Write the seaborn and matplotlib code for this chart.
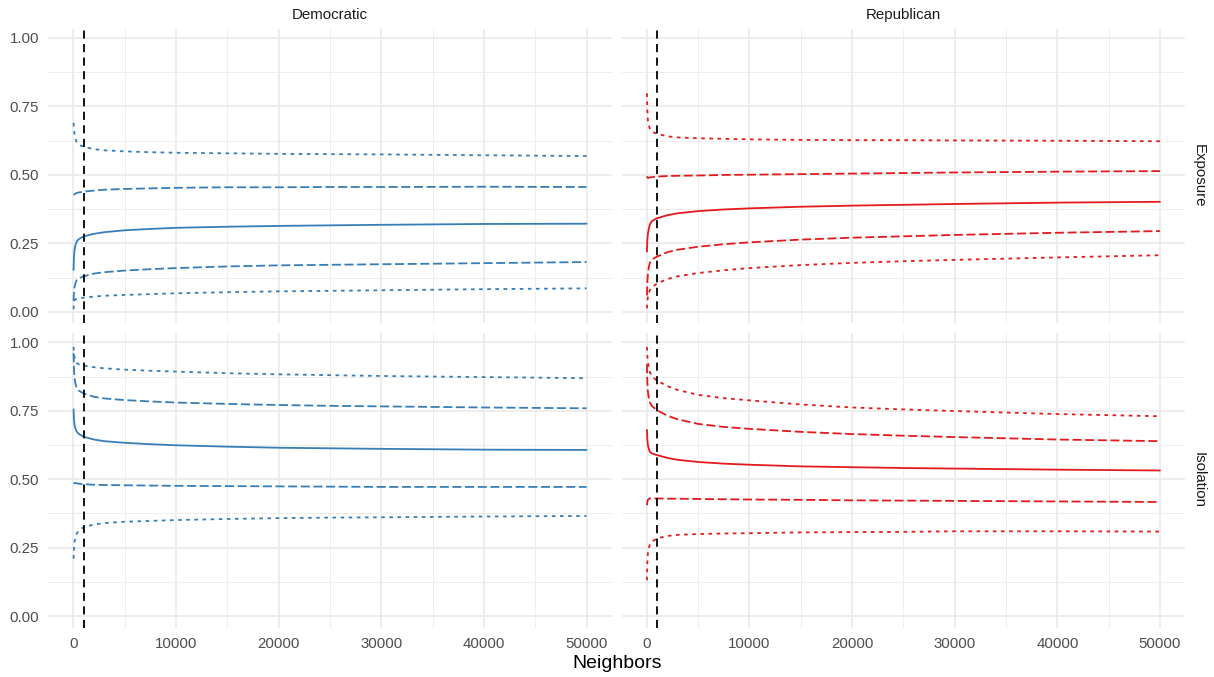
import numpy as np
import pandas as pd
import matplotlib
matplotlib.use("Agg")
import matplotlib.pyplot as plt
import seaborn as sns
from matplotlib.ticker import MultipleLocator, FixedLocator, FuncFormatter

sns.set_theme(style="white")
plt.rcParams["font.family"] = ["Liberation Sans", "DejaVu Sans"]

# Number of nearest neighbors used to compute each measure
neighbors = [10, 50, 100, 200, 300, 500, 1000, 2000, 3000, 5000, 7500,
             10000, 15000, 20000, 25000, 30000, 40000, 50000]

parties = ["Democratic", "Republican"]
measures = ["Exposure", "Isolation"]
bands = ["p05", "p25", "p50", "p75", "p95"]

# Democratic exposure
dem_exp_p95 = [0.690, 0.668, 0.650, 0.632, 0.620, 0.610, 0.603, 0.594, 0.590, 0.586, 0.583, 0.581, 0.579, 0.577, 0.576, 0.575, 0.572, 0.569]
dem_exp_p75 = [0.427, 0.428, 0.430, 0.432, 0.434, 0.436, 0.439, 0.443, 0.446, 0.449, 0.451, 0.453, 0.455, 0.455, 0.456, 0.456, 0.457, 0.456]
dem_exp_p50 = [0.153, 0.200, 0.225, 0.245, 0.255, 0.265, 0.276, 0.285, 0.291, 0.298, 0.303, 0.307, 0.311, 0.314, 0.316, 0.318, 0.321, 0.322]
dem_exp_p25 = [0.040, 0.070, 0.090, 0.105, 0.115, 0.122, 0.130, 0.140, 0.145, 0.151, 0.156, 0.160, 0.166, 0.170, 0.172, 0.174, 0.178, 0.182]
dem_exp_p05 = [0.010, 0.032, 0.042, 0.046, 0.048, 0.050, 0.052, 0.056, 0.059, 0.062, 0.065, 0.068, 0.072, 0.075, 0.077, 0.079, 0.083, 0.086]

# Republican exposure
rep_exp_p95 = [0.798, 0.735, 0.700, 0.680, 0.668, 0.658, 0.650, 0.641, 0.637, 0.634, 0.632, 0.630, 0.628, 0.627, 0.627, 0.626, 0.625, 0.623]
rep_exp_p75 = [0.495, 0.491, 0.489, 0.490, 0.491, 0.492, 0.494, 0.496, 0.497, 0.498, 0.500, 0.501, 0.503, 0.505, 0.507, 0.509, 0.512, 0.514]
rep_exp_p50 = [0.220, 0.262, 0.285, 0.305, 0.320, 0.332, 0.342, 0.353, 0.360, 0.368, 0.374, 0.378, 0.384, 0.388, 0.391, 0.394, 0.399, 0.402]
rep_exp_p25 = [0.060, 0.110, 0.140, 0.165, 0.180, 0.192, 0.202, 0.218, 0.227, 0.238, 0.247, 0.254, 0.264, 0.271, 0.276, 0.281, 0.289, 0.295]
rep_exp_p05 = [0.013, 0.038, 0.055, 0.070, 0.080, 0.090, 0.104, 0.120, 0.130, 0.142, 0.152, 0.160, 0.171, 0.179, 0.185, 0.190, 0.199, 0.207]

# Democratic isolation
dem_iso_p95 = [0.983, 0.960, 0.945, 0.932, 0.925, 0.920, 0.915, 0.909, 0.905, 0.900, 0.896, 0.893, 0.887, 0.883, 0.880, 0.877, 0.873, 0.869]
dem_iso_p75 = [0.960, 0.905, 0.870, 0.848, 0.835, 0.824, 0.813, 0.801, 0.795, 0.789, 0.784, 0.780, 0.775, 0.771, 0.768, 0.766, 0.762, 0.759]
dem_iso_p50 = [0.755, 0.720, 0.700, 0.685, 0.675, 0.666, 0.655, 0.645, 0.639, 0.633, 0.628, 0.624, 0.619, 0.615, 0.613, 0.611, 0.608, 0.607]
dem_iso_p25 = [0.484, 0.485, 0.486, 0.486, 0.485, 0.484, 0.482, 0.480, 0.479, 0.478, 0.477, 0.476, 0.475, 0.474, 0.473, 0.472, 0.472, 0.472]
dem_iso_p05 = [0.210, 0.248, 0.270, 0.288, 0.300, 0.312, 0.325, 0.335, 0.340, 0.345, 0.348, 0.351, 0.355, 0.358, 0.360, 0.361, 0.364, 0.366]

# Republican isolation
rep_iso_p95 = [0.983, 0.950, 0.930, 0.905, 0.890, 0.875, 0.860, 0.840, 0.826, 0.808, 0.796, 0.788, 0.773, 0.762, 0.755, 0.749, 0.738, 0.730]
rep_iso_p75 = [0.920, 0.855, 0.820, 0.795, 0.780, 0.767, 0.752, 0.732, 0.719, 0.702, 0.691, 0.684, 0.673, 0.665, 0.659, 0.654, 0.645, 0.639]
rep_iso_p50 = [0.680, 0.645, 0.625, 0.610, 0.600, 0.594, 0.588, 0.578, 0.571, 0.563, 0.557, 0.553, 0.547, 0.544, 0.541, 0.539, 0.535, 0.532]
rep_iso_p25 = [0.405, 0.418, 0.425, 0.428, 0.430, 0.430, 0.430, 0.429, 0.429, 0.428, 0.427, 0.426, 0.425, 0.423, 0.422, 0.421, 0.419, 0.417]
rep_iso_p05 = [0.131, 0.195, 0.230, 0.250, 0.262, 0.273, 0.284, 0.293, 0.297, 0.300, 0.302, 0.303, 0.306, 0.307, 0.308, 0.310, 0.310, 0.309]

reference_k = 1000

series = {
    ("Democratic", "Exposure"): [dem_exp_p05, dem_exp_p25, dem_exp_p50, dem_exp_p75, dem_exp_p95],
    ("Republican", "Exposure"): [rep_exp_p05, rep_exp_p25, rep_exp_p50, rep_exp_p75, rep_exp_p95],
    ("Democratic", "Isolation"): [dem_iso_p05, dem_iso_p25, dem_iso_p50, dem_iso_p75, dem_iso_p95],
    ("Republican", "Isolation"): [rep_iso_p05, rep_iso_p25, rep_iso_p50, rep_iso_p75, rep_iso_p95],
}

rows = []
for (party, measure), vals in series.items():
    for band, v in zip(bands, vals):
        for k, y in zip(neighbors, v):
            rows.append({"party": party, "measure": measure, "band": band,
                         "neighbors": k, "value": y})
df = pd.DataFrame(rows)

party_colors = {"Democratic": "#377EB8", "Republican": "#E41A1C"}
lw = 1.3
# outer bands dotted, quartiles dashed, median solid
dash_map = {"p05": (2.0, 2.5), "p25": (5.0, 2.0), "p50": "",
            "p75": (5.0, 2.0), "p95": (2.0, 2.5)}

W, H = 1214, 677
fig = plt.figure(figsize=(W / 100, H / 100), dpi=100)

col_x = [48.3, 621.7]
panel_w = 563.4
row_top = [29.0, 333.3]
panel_h = 294.2

grid_color = "#EBEBEB"
text_color = "#4D4D4D"
font_small = 10.8

for r, measure in enumerate(measures):
    for c, party in enumerate(parties):
        left = col_x[c] / W
        bottom = 1 - (row_top[r] + panel_h) / H
        ax = fig.add_axes([left, bottom, panel_w / W, panel_h / H])
        sub = df[(df.party == party) & (df.measure == measure)]
        sns.lineplot(data=sub, x="neighbors", y="value", style="band",
                     dashes=dash_map, color=party_colors[party], linewidth=lw,
                     legend=False, ax=ax, estimator=None, sort=True)
        ax.axvline(reference_k, color="black", linewidth=1.3,
                   dashes=(4.5, 3.0), zorder=5)

        ax.set_xlim(-2450, 52450)
        ax.set_ylim(-0.0412, 1.0328)
        ax.xaxis.set_major_locator(MultipleLocator(10000))
        ax.xaxis.set_minor_locator(FixedLocator([5000, 15000, 25000, 35000, 45000]))
        ax.yaxis.set_major_locator(MultipleLocator(0.25))
        ax.yaxis.set_minor_locator(FixedLocator([0.125, 0.375, 0.625, 0.875]))
        ax.yaxis.set_major_formatter(FuncFormatter(lambda v, p: f"{v:.2f}"))
        ax.xaxis.set_major_formatter(FuncFormatter(lambda v, p: f"{int(round(v))}"))

        ax.grid(True, which="major", color=grid_color, linewidth=1.25)
        ax.grid(True, which="minor", color=grid_color, linewidth=0.6)
        ax.set_axisbelow(True)
        for s in ax.spines.values():
            s.set_visible(False)
        ax.tick_params(which="both", length=0, labelsize=font_small,
                       labelcolor=text_color, pad=6.6)
        ax.set_xlabel("")
        ax.set_ylabel("")
        if c != 0:
            ax.tick_params(axis="y", labelleft=False)
        if r != 1:
            ax.tick_params(axis="x", labelbottom=False)

        if r == 0:
            fig.text((col_x[c] + panel_w / 2) / W, 1 - 15 / H, party,
                     ha="center", va="center", fontsize=font_small, color="#1A1A1A")
        if c == 1:
            fig.text(1199 / W, 1 - (row_top[r] + panel_h / 2) / H, measure,
                     ha="center", va="center", rotation=270, fontsize=font_small,
                     color="#1A1A1A")

fig.text((col_x[0] + col_x[1] + panel_w) / 2 / W, 1 - 663 / H, "Neighbors",
         ha="center", va="center", fontsize=14, color="black")

fig.savefig("out.png", dpi=100, facecolor="white")
